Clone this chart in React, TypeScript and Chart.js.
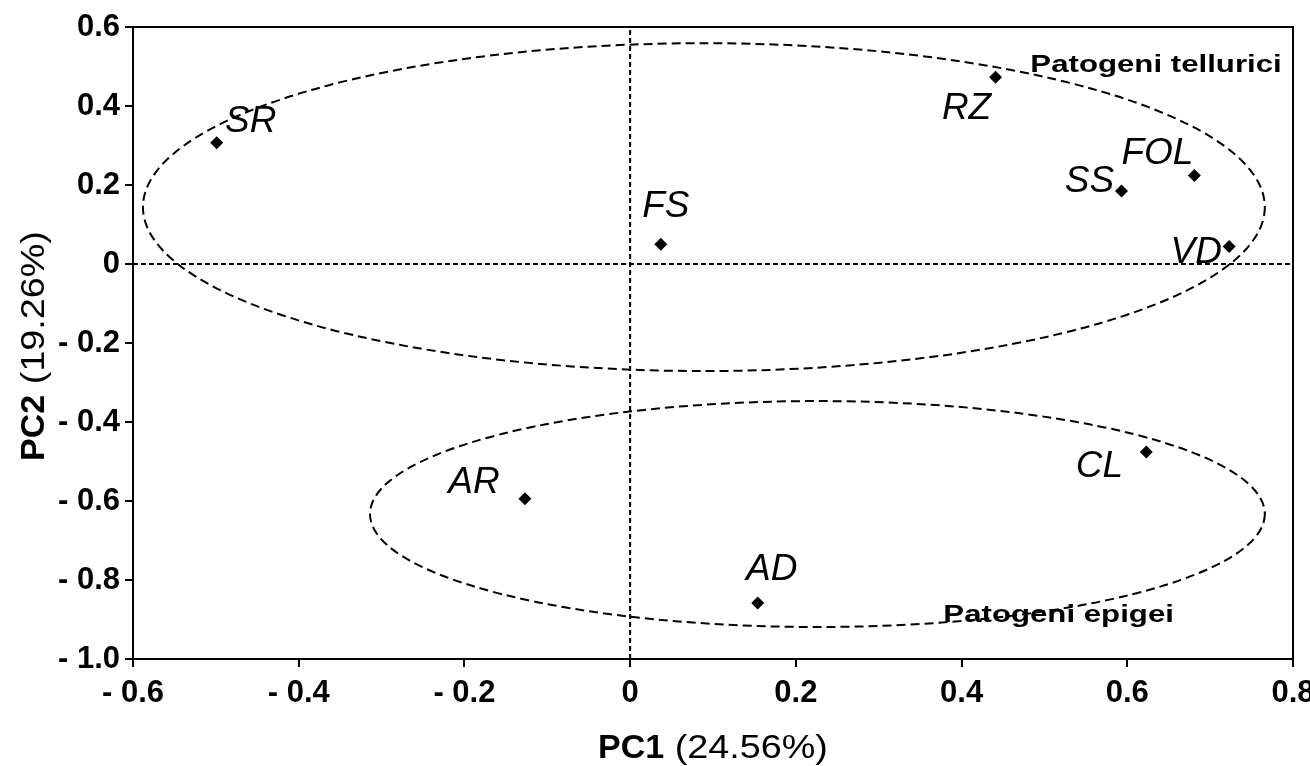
import React, { useEffect, useRef } from 'react';
import { Chart, registerables } from 'chart.js';

Chart.register(...registerables);

// ---- data ----
const sampleNames = ['SR', 'FS', 'RZ', 'FOL', 'SS', 'VD', 'AR', 'AD', 'CL'];
const pc1Values = [-0.499, 0.037, 0.441, 0.681, 0.593, 0.723, -0.127, 0.154, 0.623];
const pc2Values = [0.307, 0.05, 0.473, 0.224, 0.185, 0.044, -0.594, -0.858, -0.476];

const xTickValues = [-0.6, -0.4, -0.2, 0, 0.2, 0.4, 0.6, 0.8];
const xTickLabels = ['- 0.6', '- 0.4', '- 0.2', '0', '0.2', '0.4', '0.6', '0.8'];
const yTickValues = [-1.0, -0.8, -0.6, -0.4, -0.2, 0, 0.2, 0.4, 0.6];
const yTickLabels = ['- 1.0', '- 0.8', '- 0.6', '- 0.4', '- 0.2', '0', '0.2', '0.4', '0.6'];

const groupNames = ['Patogeni tellurici', 'Patogeni epigei'];
const groupCenterX = [0.089, 0.226];
const groupCenterY = [0.144, -0.633];
const groupRadiusX = [0.677, 0.54];
const groupRadiusY = [0.415, 0.286];

const xAxisTitle = ['PC1', ' (24.56%)'];
const yAxisTitle = ['PC2', ' (19.26%)'];

// ---- styling / placement (not data) ----
const FONT = "'Liberation Sans', Arial, Helvetica, sans-serif";
const labelOffsets: Record<string, [number, number]> = {
  SR: [34, -24],
  FS: [5, -40],
  RZ: [-29, 29],
  FOL: [-37, -25],
  SS: [-32, -12],
  VD: [-33, 3],
  AR: [-51, -19],
  AD: [14, -36],
  CL: [-47, 12],
};
const groupLabelAnchors: [number, number][] = [
  [0.483, 0.486],
  [0.378, -0.906],
];

const pcaPlugin = {
  id: 'pcaDecorations',
  beforeDatasetsDraw(chart: any) {
    const { ctx } = chart;
    const xs = chart.scales.x;
    const ys = chart.scales.y;
    ctx.save();
    ctx.strokeStyle = '#000';
    ctx.lineWidth = 2;
    ctx.setLineDash([9, 5]);
    for (let i = 0; i < groupNames.length; i++) {
      const cx = xs.getPixelForValue(groupCenterX[i]);
      const cy = ys.getPixelForValue(groupCenterY[i]);
      const rx = Math.abs(xs.getPixelForValue(groupCenterX[i] + groupRadiusX[i]) - cx);
      const ry = Math.abs(ys.getPixelForValue(groupCenterY[i] + groupRadiusY[i]) - cy);
      ctx.beginPath();
      ctx.ellipse(cx, cy, rx, ry, 0, 0, Math.PI * 2);
      ctx.stroke();
    }
    ctx.restore();
  },
  afterDatasetsDraw(chart: any) {
    const { ctx, chartArea } = chart;
    const xs = chart.scales.x;
    const ys = chart.scales.y;
    ctx.save();
    // frame top/right
    ctx.strokeStyle = '#000';
    ctx.lineWidth = 2;
    ctx.setLineDash([]);
    ctx.beginPath();
    ctx.moveTo(chartArea.left, chartArea.top);
    ctx.lineTo(chartArea.right, chartArea.top);
    ctx.lineTo(chartArea.right, chartArea.bottom);
    ctx.stroke();

    // point labels
    ctx.fillStyle = '#000';
    ctx.font = `italic 37px ${FONT}`;
    ctx.textAlign = 'center';
    ctx.textBaseline = 'alphabetic';
    for (let i = 0; i < sampleNames.length; i++) {
      const px = xs.getPixelForValue(pc1Values[i]);
      const py = ys.getPixelForValue(pc2Values[i]);
      const off = labelOffsets[sampleNames[i]] || [0, -20];
      ctx.fillText(sampleNames[i], px + off[0], py + off[1] + 13);
    }

    // group labels
    ctx.font = `bold 24px ${FONT}`;
    ctx.textAlign = 'left';
    for (let i = 0; i < groupNames.length; i++) {
      const gx = xs.getPixelForValue(groupLabelAnchors[i][0]);
      const gy = ys.getPixelForValue(groupLabelAnchors[i][1]);
      ctx.save();
      ctx.translate(gx, gy);
      ctx.scale(1.3, 1);
      ctx.fillText(groupNames[i], 0, 0);
      ctx.restore();
    }

    // axis titles
    const drawTitle = (parts: string[], cx: number, cy: number, rot: number) => {
      ctx.save();
      ctx.translate(cx, cy);
      ctx.rotate(rot);
      ctx.font = `bold 34px ${FONT}`;
      const w1 = ctx.measureText(parts[0]).width;
      ctx.font = `34px ${FONT}`;
      const w2 = ctx.measureText(parts[1]).width * 1.11;
      const x0 = -(w1 + w2) / 2;
      ctx.textAlign = 'left';
      ctx.font = `bold 34px ${FONT}`;
      ctx.fillText(parts[0], x0, 0);
      ctx.font = `34px ${FONT}`;
      ctx.translate(x0 + w1, 0);
      ctx.scale(1.11, 1);
      ctx.fillText(parts[1], 0, 0);
      ctx.restore();
    };
    drawTitle(xAxisTitle, (chartArea.left + chartArea.right) / 2, 758, 0);
    drawTitle(yAxisTitle, 44, (chartArea.top + chartArea.bottom) / 2 + 3, -Math.PI / 2);
    ctx.restore();
  },
};

export default function App() {
  const canvasRef = useRef<HTMLCanvasElement | null>(null);

  useEffect(() => {
    if (!canvasRef.current) return;
    const chart = new Chart(canvasRef.current, {
      type: 'scatter',
      data: {
        datasets: [
          {
            label: 'samples',
            data: sampleNames.map((_, i) => ({ x: pc1Values[i], y: pc2Values[i] })),
            pointStyle: 'rectRot',
            pointRadius: 6.5,
            backgroundColor: '#000',
            borderColor: '#000',
            borderWidth: 0,
          },
          {
            type: 'line',
            label: 'x0',
            data: [
              { x: 0, y: yTickValues[0] },
              { x: 0, y: yTickValues[yTickValues.length - 1] },
            ],
            borderColor: '#000',
            borderWidth: 2,
            borderDash: [5, 3],
            pointRadius: 0,
            fill: false,
          } as any,
          {
            type: 'line',
            label: 'y0',
            data: [
              { x: xTickValues[0], y: 0 },
              { x: xTickValues[xTickValues.length - 1], y: 0 },
            ],
            borderColor: '#000',
            borderWidth: 2,
            borderDash: [5, 3],
            pointRadius: 0,
            fill: false,
          } as any,
        ],
      },
      options: {
        responsive: false,
        animation: false,
        layout: { padding: { top: 27, right: 17, left: 0, bottom: 0 } },
        plugins: { legend: { display: false }, tooltip: { enabled: false }, title: { display: false } },
        scales: {
          x: {
            type: 'linear',
            min: xTickValues[0],
            max: xTickValues[xTickValues.length - 1],
            afterBuildTicks: (s: any) => {
              s.ticks = xTickValues.map((v) => ({ value: v }));
            },
            afterFit: (s: any) => {
              s.height = 107;
              s.paddingLeft = 0;
              s.paddingRight = 0;
            },
            ticks: {
              callback: (_v: any, i: number) => xTickLabels[i],
              color: '#000',
              font: { family: FONT, size: 31, weight: 'bold' },
              padding: 8,
              maxRotation: 0,
              autoSkip: false,
            },
            grid: { drawOnChartArea: false, drawTicks: true, tickLength: 8, color: '#000', lineWidth: 2 },
            border: { display: true, color: '#000', width: 2 },
          },
          y: {
            type: 'linear',
            min: yTickValues[0],
            max: yTickValues[yTickValues.length - 1],
            afterBuildTicks: (s: any) => {
              s.ticks = yTickValues.map((v) => ({ value: v }));
            },
            afterFit: (s: any) => {
              s.width = 133;
              s.paddingTop = 0;
              s.paddingBottom = 0;
            },
            ticks: {
              callback: (_v: any, i: number) => yTickLabels[i],
              color: '#000',
              font: { family: FONT, size: 31, weight: 'bold' },
              padding: 5,
              autoSkip: false,
            },
            grid: { drawOnChartArea: false, drawTicks: true, tickLength: 8, color: '#000', lineWidth: 2 },
            border: { display: true, color: '#000', width: 2 },
          },
        },
      },
      plugins: [pcaPlugin],
    });
    return () => chart.destroy();
  }, []);

  return (
    <div style={{ position: 'fixed', left: 0, top: 0, width: 1310, height: 766, background: '#fff' }}>
      <canvas ref={canvasRef} width={1310} height={766} style={{ width: 1310, height: 766 }} />
    </div>
  );
}
